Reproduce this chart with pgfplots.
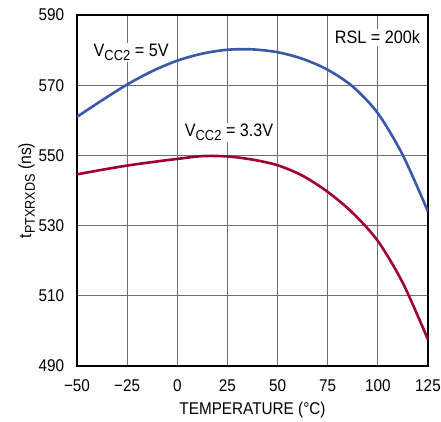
\documentclass[border=0pt]{standalone}
\usepackage{fontspec}
\setmainfont{Liberation Sans}[FakeStretch=0.9]
\usepackage{pgfplots}
\pgfplotsset{compat=1.18}
\definecolor{ltblue}{HTML}{3A58A8}
\definecolor{ltred}{HTML}{9E0030}
\definecolor{gridgray}{HTML}{6E6E6E}
% subscript a little larger than \textsubscript
\newcommand{\sub}[1]{\raisebox{-0.22em}{\fontsize{0.8em}{1em}\selectfont #1}}
\begin{document}
\fontsize{17}{20}\selectfont
\begin{tikzpicture}
\begin{axis}[
  scale only axis, width=351pt, height=351pt,
  xmin=-50, xmax=125, ymin=490, ymax=590,
  xtick={-50,-25,...,125},
  xticklabels={\textminus50,\textminus25,0,25,50,75,100,125},
  ytick={490,510,...,590},
  tick style={draw=none},
  xmajorgrids, ymajorgrids,
  major grid style={draw=gridgray, line width=1pt},
  axis line style={black, line width=1.4pt},
  tick label style={font=\fontsize{17}{20}\selectfont},
  /pgf/number format/assume math mode=true,
  /pgf/number format/1000 sep={},
  xticklabel style={yshift=-8pt},
  yticklabel style={xshift=-7pt},
  xlabel={TEMPERATURE (°C)},
  ylabel={t\sub{PTXRXDS} (ns)},
  label style={font=\fontsize{17}{20}\selectfont},
  xlabel style={yshift=1pt},
  ylabel style={yshift=-8pt, font=\fontsize{17.5}{20}\selectfont},
]
\addplot[ltblue, line width=2.6pt, smooth, tension=0.5] coordinates {
  (-50,561.0) (-37.5,565.7) (-25,570.2) (-12.5,574.0) (0,577.0)
  (12.5,579.0) (25,580.1) (37.5,580.2) (50,579.4) (62.5,577.5)
  (75,574.4) (87.5,569.6) (100,562.0) (112.5,550.0) (125,534.0)
};
\addplot[ltred, line width=2.6pt, smooth, tension=0.5] coordinates {
  (-50,544.6) (-37.5,545.9) (-25,547.1) (-12.5,548.1) (0,549.0)
  (12.5,549.8) (25,549.7) (37.5,548.8) (50,547.2) (62.5,544.2)
  (75,539.6) (87.5,533.6) (100,525.6) (112.5,513.6) (125,497.5)
};
\node[fill=white, inner sep=1pt, font=\fontsize{18}{20}\selectfont] at (axis cs:-23,579.3) {V\sub{CC2} = 5V};
\node[fill=white, inner sep=1pt, font=\fontsize{18}{20}\selectfont] at (axis cs:25.8,556.5) {V\sub{CC2} = 3.3V};
\node[fill=white, inner sep=2pt, font=\fontsize{18}{20}\selectfont] at (axis cs:99.8,583.7) {RSL = 200k};
\end{axis}
\pgfresetboundingbox
\path (current axis.south west) ++(-77pt,-55pt) rectangle ++(441pt,421pt);
\end{tikzpicture}
\end{document}
